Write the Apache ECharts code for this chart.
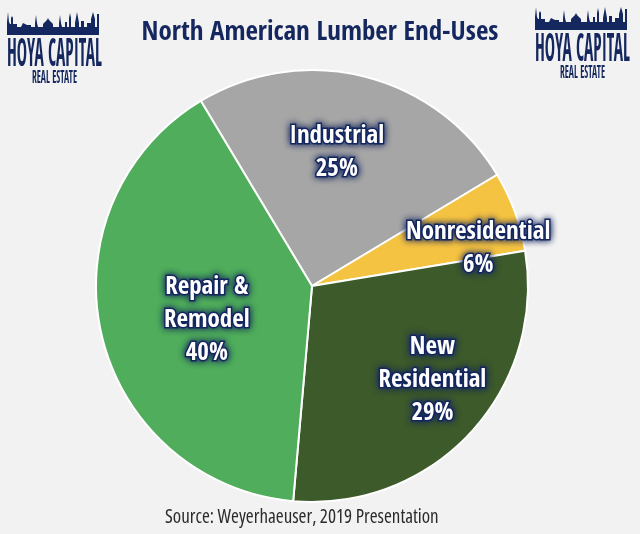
<!DOCTYPE html>
<html><head><meta charset="utf-8">
<script src="https://cdn.jsdelivr.net/npm/echarts@6/dist/echarts.min.js"></script>
<style>html,body{margin:0;padding:0;background:#f2f2f2}#c{width:640px;height:534px}</style>
</head><body><div id="c"></div>
<script>
const categories = ['Industrial', 'Nonresidential', 'New\nResidential', 'Repair &\nRemodel'];
const values = [25, 6, 29, 40];
const colors = ['#a6a6a6', '#f5c342', '#3d5a2b', '#4fad5b'];
const labelOffsets = [[-2, -25], [62, 1], [39, 19], [3, 9]];
const FONT = '"Open Sans Condensed"';
const NAVY = '#15275f';

const mctx = document.createElement('canvas').getContext('2d');
function fitText(text, font, x, yMid, width) {
  mctx.font = font;
  const w = mctx.measureText(text).width;
  return {type:'text', x:x, y:yMid, scaleX: width / w, scaleY: 1,
    style:{text:text, font:font, fill:NAVY, align:'left', verticalAlign:'middle'}};
}
const sky = [[0,25],[0,12],[1,2],[2,12],[3,14],[4,14],[4,8],[5,6],[6,8],[6,14],[10,14],[10,17],[14,17],[16,13],[20,15],[24,15],[24,17],[28,17],[28,13],[29,5],[30,13],[31,17],[36,17],[36,14],[38,12],[40,10],[41,8],[42,10],[44,12],[46,14],[46,17],[52,17],[52,13],[53,5],[54,13],[55,17],[58,17],[58,12],[60,12],[60,17],[62,17],[62,8],[63,3],[64,8],[64,17],[68,17],[68,13],[70,2],[72,13],[72,17],[74,17],[74,11],[77,11],[77,17],[80,17],[80,13],[84,13],[84,9],[86,2],[88,9],[88,17],[90,17],[90,4],[92,4],[92,25]];
function logo(x, y, w) {
  return [
    {type:'polygon', x:x, y:y, scaleX: w / 92, shape:{points:sky}, style:{fill:NAVY}},
    fitText('HOYA CAPITAL', 'bold 39px ' + FONT, x, y + 46, w + 3),
    fitText('REAL ESTATE', 'bold 17px ' + FONT, x + 25, y + 69, 45)
  ];
}

const chart = echarts.init(document.getElementById('c'));
chart.setOption({
  backgroundColor: '#f2f2f2',
  animation: false,
  title: {
    text: 'North American Lumber End-Uses',
    left: 'center', top: 14,
    textStyle: {color: NAVY, fontFamily: FONT, fontWeight: 'bold', fontSize: 27}
  },
  graphic: [
    ...logo(7, 10, 92), ...logo(535, 5, 92),
    {type:'text', left:165, top:508, style:{text:'Source: Weyerhaeuser, 2019 Presentation', font:'condensed 19px "Open Sans"', fill:'#2b2b2b'}}
  ],
  series: [{
    type: 'pie',
    center: [312, 286],
    radius: [0, 216],
    startAngle: 121,
    clockwise: true,
    itemStyle: {borderColor: '#ffffff', borderWidth: 2},
    label: {
      show: true, position: 'inside',
      formatter: p => p.name + '\n' + p.value + '%',
      color: '#ffffff', fontFamily: FONT, fontWeight: 'bold', fontSize: 25, lineHeight: 33,
      textBorderColor: NAVY, textBorderWidth: 3,
      textShadowColor: NAVY, textShadowBlur: 7
    },
    labelLine: {show: false},
    data: categories.map((c, i) => ({
      name: c, value: values[i],
      itemStyle: {color: colors[i]},
      label: {offset: labelOffsets[i]}
    }))
  }]
});
</script></body></html>
